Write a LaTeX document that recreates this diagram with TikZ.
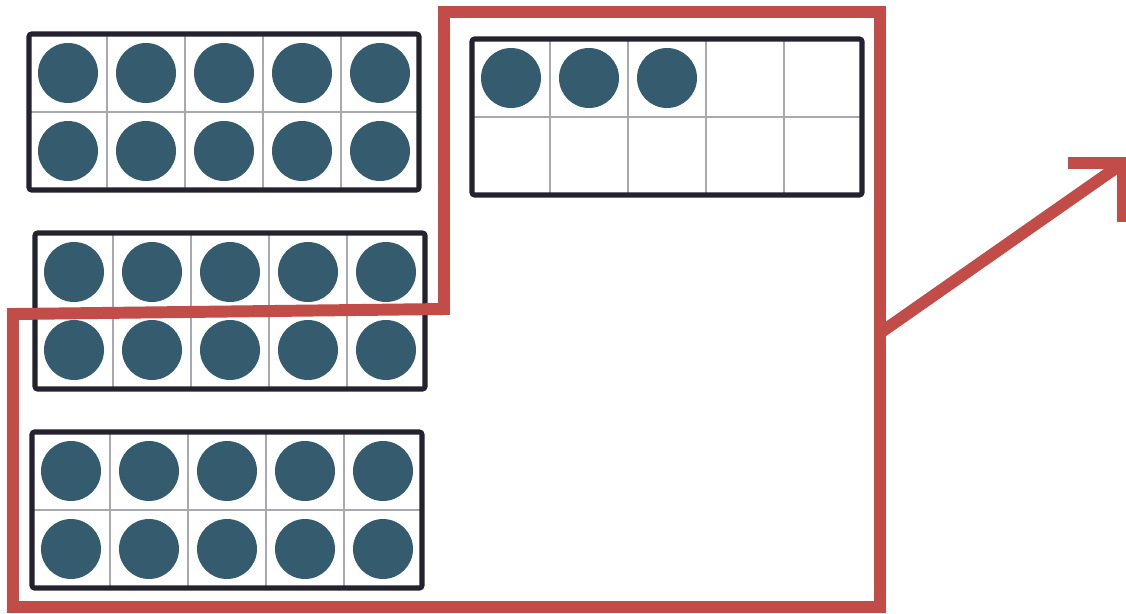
\documentclass[tikz,border=0pt]{standalone}
\usepackage{tikz}
\usetikzlibrary{calc}
\definecolor{dotTeal}{HTML}{355B6E}
\definecolor{frameInk}{HTML}{23222E}
\definecolor{gridGray}{HTML}{A9A8AE}
\definecolor{routeRed}{HTML}{C14C48}

% ten frame: name, left, top, number of dots
\newcommand{\tenframe}[4]{%
  \begin{scope}[shift={(#2,#3)}]
    \coordinate (#1) at (0,0);
    \foreach \i in {1,...,4} \draw[gridline] (\i*78,0) -- (\i*78,156);
    \draw[gridline] (0,78) -- (390,78);
    \foreach \k in {1,...,#4} {
      \pgfmathtruncatemacro\col{mod(\k-1,5)}
      \pgfmathtruncatemacro\row{(\k-1)/5}
      \fill[counter] (\col*78+39,\row*78+39) circle[radius=0.6cm];
    }
    \draw[frameborder] (0,0) rectangle (390,156);
  \end{scope}}

\begin{document}
\begin{tikzpicture}[
      x=0.02cm, y=-0.02cm,
      gridline/.style={draw=gridGray, line width=1.1pt},
      counter/.style={fill=dotTeal},
      frameborder/.style={draw=frameInk, line width=2.9pt, rounded corners=1.5pt},
      route/.style={draw=routeRed, line width=6.8pt, line join=miter}
    ]
      \fill[white] (0,0) rectangle (1126,613);
      \useasboundingbox (0,0) rectangle (1126,613);

      \tenframe{f1}{29}{34}{10}
      \tenframe{f2}{35}{233}{10}
      \tenframe{f3}{32}{432}{10}
      \tenframe{f4}{472}{39}{3}

      % outline round the frames
      \draw[route] (13,314) -- (444,309) -- (444,12) -- (880,12) -- (880,607) -- (13,607) -- cycle;

      % arrow out of the outline
      \coordinate (start) at (880,333);
      \coordinate (tip) at (1123,163);
      \draw[route] (start) -- (tip);
      \draw[route] (1068,163) -- (tip) -- (1123,222);
    \end{tikzpicture}
\end{document}
